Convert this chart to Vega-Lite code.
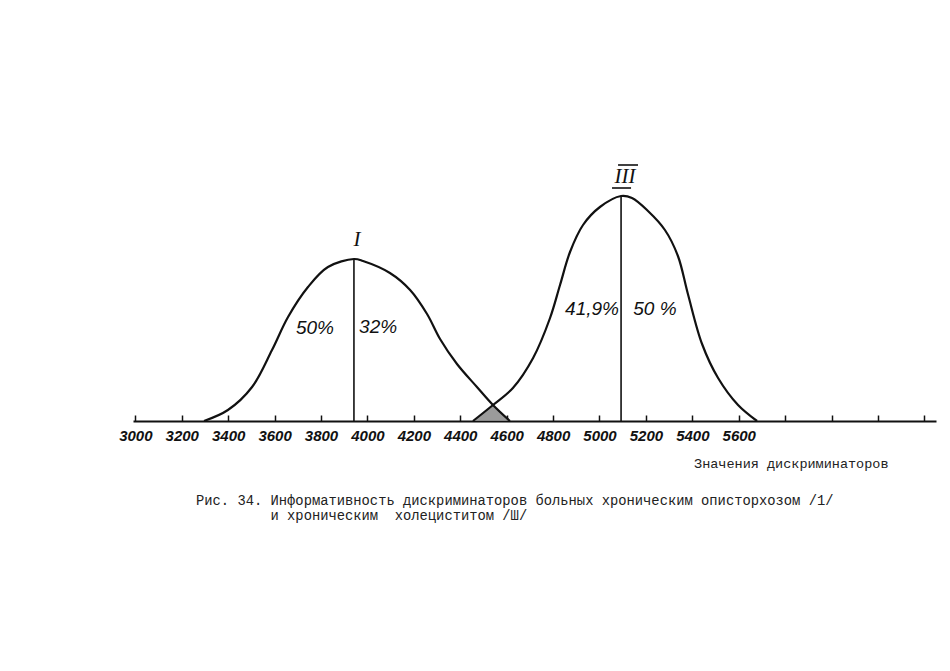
{
  "$schema": "https://vega.github.io/schema/vega-lite/v6.json",
  "autosize": "none",
  "width": 803,
  "height": 271,
  "padding": {"left": 133, "top": 150, "right": 14, "bottom": 250},
  "background": "white",
  "config": {"view": {"stroke": null}},
  "title": {
    "text": ["Рис. 34. Информативность дискриминаторов больных хроническим описторхозом /1/", "\u200b\u00a0\u00a0\u00a0\u00a0\u00a0\u00a0\u00a0\u00a0\u00a0и хроническим\u00a0 холециститом /Ш/"],
    "orient": "bottom",
    "anchor": "start",
    "frame": "group",
    "dx": 63,
    "offset": 24,
    "font": "Liberation Mono",
    "fontSize": 13.8,
    "fontWeight": "normal",
    "lineHeight": 15,
    "color": "#222"
  },
  "datasets": {
    "curves": [
      {"series": "I", "x": 3296, "y": 0},
      {"series": "I", "x": 3399, "y": 11},
      {"series": "I", "x": 3503, "y": 34},
      {"series": "I", "x": 3589, "y": 71},
      {"series": "I", "x": 3658, "y": 104},
      {"series": "I", "x": 3744, "y": 134},
      {"series": "I", "x": 3830, "y": 154},
      {"series": "I", "x": 3942, "y": 162},
      {"series": "I", "x": 3981, "y": 160},
      {"series": "I", "x": 4097, "y": 148},
      {"series": "I", "x": 4184, "y": 131},
      {"series": "I", "x": 4257, "y": 107},
      {"series": "I", "x": 4313, "y": 82},
      {"series": "I", "x": 4386, "y": 57},
      {"series": "I", "x": 4472, "y": 34},
      {"series": "I", "x": 4541, "y": 16},
      {"series": "I", "x": 4614, "y": 0},
      {"series": "III", "x": 4455, "y": 0},
      {"series": "III", "x": 4541, "y": 16},
      {"series": "III", "x": 4627, "y": 33},
      {"series": "III", "x": 4714, "y": 63},
      {"series": "III", "x": 4787, "y": 103},
      {"series": "III", "x": 4830, "y": 136},
      {"series": "III", "x": 4873, "y": 169},
      {"series": "III", "x": 4929, "y": 196},
      {"series": "III", "x": 5002, "y": 214},
      {"series": "III", "x": 5093, "y": 225},
      {"series": "III", "x": 5140, "y": 223},
      {"series": "III", "x": 5209, "y": 210},
      {"series": "III", "x": 5282, "y": 191},
      {"series": "III", "x": 5338, "y": 165},
      {"series": "III", "x": 5381, "y": 127},
      {"series": "III", "x": 5442, "y": 77},
      {"series": "III", "x": 5511, "y": 43},
      {"series": "III", "x": 5597, "y": 16},
      {"series": "III", "x": 5679, "y": 0}
    ],
    "overlap": [
      {"x": 4455, "y": 0},
      {"x": 4541, "y": 16},
      {"x": 4614, "y": 0}
    ],
    "medians": [
      {"series": "I", "x": 3942, "y0": 0, "y1": 162},
      {"series": "III", "x": 5093, "y0": 0, "y1": 225}
    ],
    "bars": [
      {"x0": 5080, "x1": 5166, "y": 256},
      {"x0": 5054, "x1": 5136, "y": 233}
    ],
    "romans": [
      {"label": "I", "x": 3955, "y": 181},
      {"label": "III", "x": 5110, "y": 244}
    ],
    "shares": [
      {"label": "50%", "x": 3774, "y": 93},
      {"label": "32%", "x": 4046, "y": 94},
      {"label": "41,9%", "x": 4968, "y": 112},
      {"label": "50 %", "x": 5239, "y": 112}
    ]
  },
  "layer": [
    {
      "data": {"name": "overlap"},
      "mark": {"type": "area", "color": "#8a8a8a", "opacity": 0.85},
      "encoding": {
        "x": {
          "field": "x", "type": "quantitative",
          "scale": {"domain": [2990, 6450], "nice": false, "zero": false},
          "axis": {
            "values": [3000, 3200, 3400, 3600, 3800, 4000, 4200, 4400, 4600, 4800, 5000, 5200, 5400, 5600, 5800, 6000, 6200, 6400],
            "labelExpr": "datum.value <= 5600 ? format(datum.value, 'd') : ''",
            "grid": false,
            "domainColor": "#111",
            "domainWidth": 2,
            "tickColor": "#111",
            "tickWidth": 1.5,
            "tickSize": -6,
            "labelFont": "'Liberation Sans Narrow', 'Liberation Sans'",
            "labelFontSize": 15,
            "labelFontWeight": "bold",
            "labelFontStyle": "italic",
            "labelColor": "#111",
            "labelPadding": 13,
            "labelDx": 3,
            "labelFlush": false,
            "labelOverlap": false,
            "title": "Значения дискриминаторов",
            "titleFont": "Liberation Mono",
            "titleFontSize": 13.5,
            "titleFontWeight": "normal",
            "titleColor": "#222",
            "titleX": 755,
            "titleY": 42,
            "titleAlign": "right",
            "titleBaseline": "middle",
            "titleAnchor": null
          }
        },
        "y": {
          "field": "y", "type": "quantitative",
          "scale": {"domain": [0, 271], "nice": false},
          "axis": null
        }
      }
    },
    {
      "data": {"name": "curves"},
      "mark": {"type": "line", "interpolate": "catmull-rom", "color": "#111", "strokeWidth": 2.2},
      "encoding": {
        "x": {"field": "x", "type": "quantitative"},
        "y": {"field": "y", "type": "quantitative"},
        "detail": {"field": "series"}
      }
    },
    {
      "data": {"name": "medians"},
      "mark": {"type": "rule", "color": "#111", "strokeWidth": 1.6},
      "encoding": {
        "x": {"field": "x", "type": "quantitative"},
        "y": {"field": "y0", "type": "quantitative"},
        "y2": {"field": "y1"}
      }
    },
    {
      "data": {"name": "bars"},
      "mark": {"type": "rule", "color": "#111", "strokeWidth": 1.6},
      "encoding": {
        "x": {"field": "x0", "type": "quantitative"},
        "x2": {"field": "x1"},
        "y": {"field": "y", "type": "quantitative"}
      }
    },
    {
      "data": {"name": "romans"},
      "mark": {"type": "text", "font": "Liberation Serif", "fontStyle": "italic", "fontSize": 21, "color": "#111", "baseline": "middle"},
      "encoding": {
        "x": {"field": "x", "type": "quantitative"},
        "y": {"field": "y", "type": "quantitative"},
        "text": {"field": "label"}
      }
    },
    {
      "data": {"name": "shares"},
      "mark": {"type": "text", "font": "Liberation Sans", "fontStyle": "italic", "fontWeight": 500, "fontSize": 19, "color": "#111", "baseline": "middle"},
      "encoding": {
        "x": {"field": "x", "type": "quantitative"},
        "y": {"field": "y", "type": "quantitative"},
        "text": {"field": "label"}
      }
    }
  ]
}
